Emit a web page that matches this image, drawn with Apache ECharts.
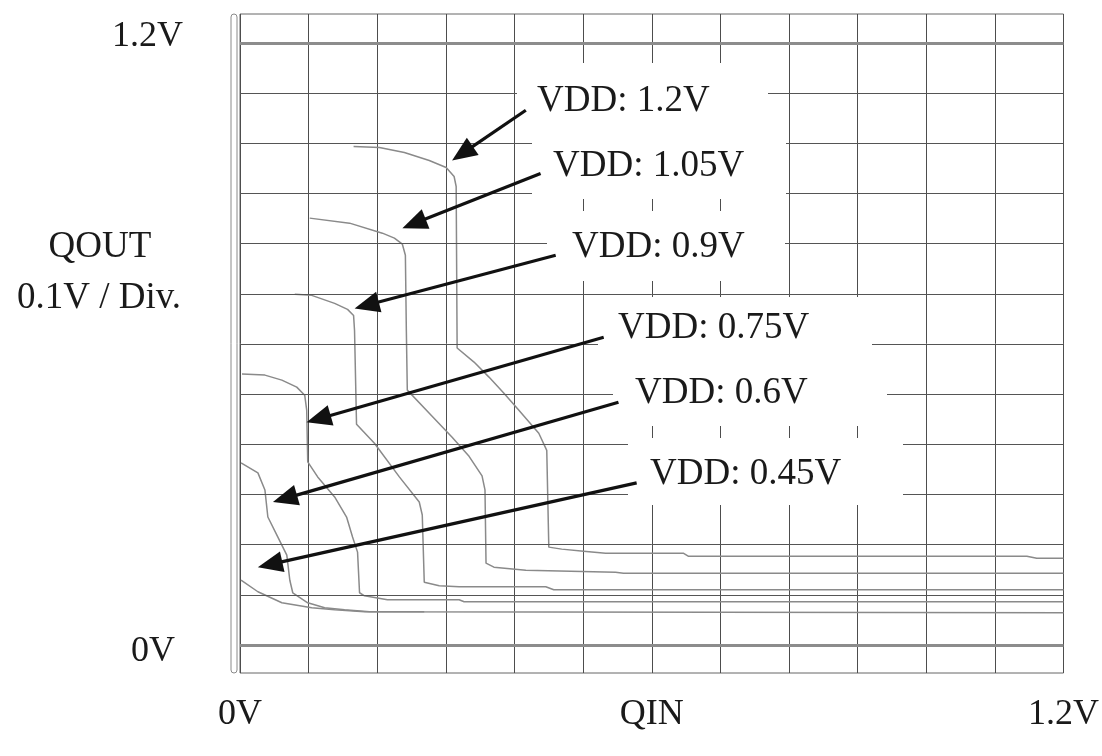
<!DOCTYPE html>
<html><head><meta charset="utf-8">
<script src="https://cdn.jsdelivr.net/npm/echarts@6/dist/echarts.min.js"></script>
<style>html,body{margin:0;padding:0;background:#fff}#c{width:1102px;height:756px}</style>
</head><body><div id="c"></div>
<script>
// ---- data (QIN, QOUT in volts) ----
const vddLabels = ['VDD: 1.2V', 'VDD: 1.05V', 'VDD: 0.9V', 'VDD: 0.75V', 'VDD: 0.6V', 'VDD: 0.45V'];
const curve_1v20 = [[0.1655,0.994],[0.2032,0.992],[0.2395,0.982],[0.2758,0.966],[0.3004,0.952],[0.312,0.934],[0.315,0.914],[0.3164,0.592],[0.341,0.564],[0.3628,0.534],[0.3846,0.502],[0.4064,0.468],[0.4354,0.422],[0.447,0.388],[0.45,0.195],[0.4688,0.191],[0.5007,0.187],[0.5327,0.183],[0.6459,0.183],[0.6531,0.177],[1.1466,0.177],[1.161,0.173],[1.2,0.173]];
const curve_1v05 = [[0.1016,0.851],[0.1597,0.841],[0.2075,0.821],[0.225,0.811],[0.2366,0.799],[0.241,0.777],[0.2424,0.627],[0.2438,0.508],[0.2758,0.462],[0.3091,0.414],[0.3338,0.376],[0.3527,0.337],[0.357,0.309],[0.3585,0.163],[0.370,0.155],[0.4165,0.149],[0.5472,0.145],[0.5588,0.143],[1.2,0.143]];
const curve_0v90 = [[0.0798,0.699],[0.1045,0.697],[0.1379,0.681],[0.1567,0.669],[0.1655,0.657],[0.1669,0.627],[0.1698,0.440],[0.1959,0.402],[0.2322,0.335],[0.2612,0.285],[0.2656,0.259],[0.2685,0.125],[0.2903,0.118],[0.3193,0.116],[0.4456,0.116],[0.4572,0.110],[1.2,0.110]];
const curve_0v75 = [[0.0029,0.540],[0.0363,0.538],[0.061,0.528],[0.0827,0.514],[0.0943,0.498],[0.0972,0.468],[0.0987,0.365],[0.1132,0.335],[0.1379,0.295],[0.1553,0.255],[0.164,0.215],[0.1713,0.185],[0.1742,0.104],[0.1814,0.098],[0.2148,0.090],[0.3193,0.090],[0.3266,0.086],[1.2,0.086]];
const curve_0v60 = [[0.0015,0.363],[0.0261,0.343],[0.0363,0.309],[0.0406,0.255],[0.0552,0.215],[0.0682,0.179],[0.0726,0.129],[0.0769,0.104],[0.0987,0.084],[0.1234,0.074],[0.1524,0.070],[0.1887,0.066],[1.2,0.064]];
const curve_0v45 = [[0.0015,0.129],[0.0261,0.106],[0.061,0.084],[0.1045,0.074],[0.1379,0.070],[0.1814,0.066],[0.2685,0.066]];
const curves = [curve_1v20, curve_1v05, curve_0v90, curve_0v75, curve_0v60, curve_0v45];

// annotation arrows (data units): tail -> tip
const arrowFrom = [[0.4165,1.066],[0.438,0.940],[0.460,0.777],[0.530,0.6135],[0.5515,0.484],[0.578,0.323]];
const arrowTo   = [[0.309,0.966],[0.2366,0.831],[0.167,0.671],[0.097,0.444],[0.048,0.285],[0.026,0.155]];

// grid / tick values
const yGridValues = [0, 0.1, 0.2, 0.3, 0.4, 0.5, 0.6, 0.7, 0.8, 0.9, 1.0, 1.1, 1.2];
const yMajorValues = [0, 1.2];
const yTickValues = [1.2, 0];
const yTickLabels = ['1.2V', '0V'];
const xTickValues = [0, 0.6, 1.2];
const xTickLabels = ['0V', 'QIN', '1.2V'];
const yAxisTitle = ['QOUT', '0.1V / Div.'];

// ---- chart ----
const FONT = '"Liberation Serif", "Times New Roman", serif';
const chart = echarts.init(document.getElementById('c'), null, {renderer: 'canvas'});

const series = curves.map((c, i) => ({
  type: 'line', name: vddLabels[i], data: c, showSymbol: false, symbol: 'none',
  lineStyle: {color: '#8a8a8a', width: 1.5}, silent: true, z: 3
}));
series.push({
  type: 'line', data: [], silent: true, z: 2,
  markLine: {
    silent: true, symbol: ['none', 'none'], label: {show: false}, animation: false,
    data: yGridValues.map(v => {
      const major = yMajorValues.some(m => Math.abs(m - v) < 1e-9);
      return {yAxis: v, lineStyle: major ? {color: '#8c8c8c', width: 3, type: 'solid'} : {color: '#555', width: 1, type: 'solid'}};
    })
  }
});

chart.setOption({
  animation: false,
  backgroundColor: '#fff',
  grid: {left: 240, right: 35, top: 14, bottom: 83, show: true, borderColor: '#666', borderWidth: 1, backgroundColor: 'transparent'},
  xAxis: {
    type: 'value', min: 0, max: 1.2, interval: 0.1,
    axisLine: {show: false}, axisTick: {show: false},
    splitLine: {show: true, lineStyle: {color: '#4d4d4d', width: 1}},
    axisLabel: {
      show: true, margin: 24, fontFamily: FONT, fontSize: 36, color: '#1a1a1a',
      showMinLabel: true, showMaxLabel: true,
      formatter: v => {
        const k = xTickValues.findIndex(t => Math.abs(t - v) < 1e-6);
        return k >= 0 ? xTickLabels[k] : '';
      }
    }
  },
  yAxis: {
    type: 'value', min: -0.056, max: 1.258,
    axisLine: {show: false}, axisTick: {show: false}, axisLabel: {show: false}, splitLine: {show: false}
  },
  series: series
});

// ---- annotations (graphic) ----
const px = p => chart.convertToPixel({xAxisIndex: 0, yAxisIndex: 0}, p);
const g = [];
// left decorative double rule
g.push({type: 'rect', shape: {x: 231, y: 14, width: 6, height: 659, r: 3}, style: {fill: '#fff', stroke: '#8a8a8a', lineWidth: 1}, z: 5, silent: true});
// white label boxes
const boxes = [[517,63,768,122],[532,122,786,199],[547,211,785,281],[598,297,872,369],[613,369,887,426],[628,438,903,505]];
boxes.forEach(b => g.push({type: 'rect', shape: {x: b[0], y: b[1], width: b[2]-b[0], height: b[3]-b[1]}, style: {fill: '#fff'}, z: 10, silent: true}));
// arrows
arrowFrom.forEach((s, i) => {
  const S = px(s), T = px(arrowTo[i]);
  const dx = T[0]-S[0], dy = T[1]-S[1], len = Math.hypot(dx, dy);
  const ux = dx/len, uy = dy/len, nx = -uy, ny = ux;
  const L = 25, W = 21;
  const B = [T[0]-ux*L, T[1]-uy*L];
  g.push({type: 'line', shape: {x1: S[0], y1: S[1], x2: B[0]+ux*3, y2: B[1]+uy*3}, style: {stroke: '#111', lineWidth: 3.2}, z: 20, silent: true});
  g.push({type: 'polygon', shape: {points: [T, [B[0]+nx*W/2, B[1]+ny*W/2], [B[0]-nx*W/2, B[1]-ny*W/2]]}, style: {fill: '#111'}, z: 21, silent: true});
});
// VDD labels
const labelPos = [[537,101],[553,166],[572,247],[618,328],[635,393],[650,474]];
vddLabels.forEach((t, i) => g.push({type: 'text', x: labelPos[i][0], y: labelPos[i][1], style: {text: t, font: '37px ' + FONT, fill: '#1a1a1a', align: 'left', verticalAlign: 'middle'}, z: 30, silent: true}));
// y tick labels
const yOff = [-7, 7], yRight = [183, 175];
yTickValues.forEach((v, i) => {
  const P = px([0, v]);
  g.push({type: 'text', x: yRight[i], y: P[1] + yOff[i], style: {text: yTickLabels[i], font: '36px ' + FONT, fill: '#1a1a1a', align: 'right', verticalAlign: 'middle'}, z: 30, silent: true});
});
// y axis title
g.push({type: 'text', x: 100, y: 247, style: {text: yAxisTitle[0], font: '37px ' + FONT, fill: '#1a1a1a', align: 'center', verticalAlign: 'middle'}, z: 30, silent: true});
g.push({type: 'text', x: 99, y: 298, style: {text: yAxisTitle[1], font: '37px ' + FONT, fill: '#1a1a1a', align: 'center', verticalAlign: 'middle'}, z: 30, silent: true});

chart.setOption({graphic: g});
</script>
</body></html>
